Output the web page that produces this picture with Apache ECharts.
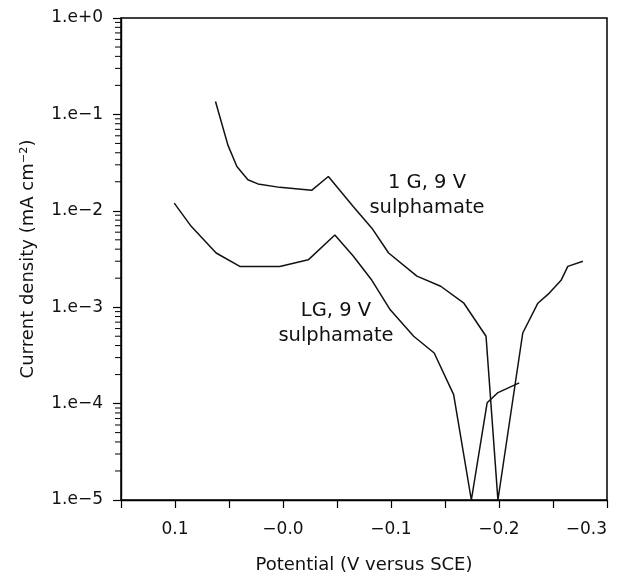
<!DOCTYPE html>
<html>
<head>
<meta charset="utf-8">
<script src="https://cdn.jsdelivr.net/npm/echarts@6/dist/echarts.min.js"></script>
<style>
html,body{margin:0;padding:0;background:#fff;}
#chart{width:619px;height:573px;}
</style>
</head>
<body>
<div id="chart"></div>
<script>
// Data
const potential1G = [0.0625, 0.051, 0.0427, 0.0325, 0.0232, 0.003, -0.0265, -0.042, -0.065, -0.0823, -0.0978, -0.124, -0.146, -0.1675, -0.188, -0.199, -0.222, -0.236, -0.2466, -0.2575, -0.2637, -0.2777];
const current1G   = [0.136, 0.048, 0.0288, 0.021, 0.019, 0.0175, 0.0163, 0.0227, 0.0111, 0.0066, 0.00365, 0.0021, 0.00165, 0.0011, 0.0005, 0.00001, 0.00054, 0.0011, 0.0014, 0.0019, 0.00265, 0.003];
const potentialLG = [0.1007, 0.085, 0.0619, 0.040, 0.003, -0.0234, -0.048, -0.065, -0.0823, -0.0993, -0.121, -0.14, -0.158, -0.1744, -0.189, -0.1986, -0.2187];
const currentLG   = [0.012, 0.0069, 0.00365, 0.00265, 0.00265, 0.0031, 0.0056, 0.0034, 0.0019, 0.00094, 0.0005, 0.000335, 0.000124, 0.00001, 0.000102, 0.000129, 0.000164];
const xTickLabels = ['0.1', '\u22120.0', '\u22120.1', '\u22120.2', '\u22120.3'];
const yTickLabels = ['1.e\u22125', '1.e\u22124', '1.e\u22123', '1.e\u22122', '1.e\u22121', '1.e+0'];
const seriesLabels = ['1 G, 9 V\nsulphamate', 'LG, 9 V\nsulphamate'];

const FONT = 'DejaVu Sans';
const xMin = -0.3, xMax = 0.15, yMin = 1e-5, yMax = 1;

// minor log ticks (2..9 in each decade)
const minorTicks = [];
for (let e = -5; e < 0; e++) {
  for (let m = 2; m <= 9; m++) minorTicks.push([xMax, m * Math.pow(10, e)]);
}

const chart = echarts.init(document.getElementById('chart'), null, {renderer: 'canvas'});
const lineStyle = {color: '#111', width: 1.5};

chart.setOption({
  animation: false,
  backgroundColor: '#fff',
  grid: {left: 121, right: 12, top: 18, bottom: 73, containLabel: false, outerBoundsMode: 'none', show: true, borderColor: '#000', borderWidth: 1.5, backgroundColor: 'transparent'},
  xAxis: {
    type: 'value', inverse: true, min: xMin, max: xMax, interval: 0.05,
    name: 'Potential (V versus SCE)', nameLocation: 'middle', nameGap: 56,
    nameTextStyle: {fontFamily: FONT, fontSize: 18, color: '#111'},
    axisLine: {show: true, onZero: false, lineStyle: {color: '#000', width: 1.4}},
    axisTick: {show: true, inside: false, length: 8, lineStyle: {color: '#000', width: 1.2}},
    axisLabel: {
      margin: 21, fontFamily: FONT, fontSize: 17, color: '#111', hideOverlap: false,
      alignMinLabel: 'right',
      formatter: function (v) {
        const k = Math.round(v * 100);
        if (k % 10 !== 0) return '';
        const idx = Math.round((0.1 - v) * 10);
        return (idx >= 0 && idx < xTickLabels.length) ? xTickLabels[idx] : '';
      }
    },
    splitLine: {show: false}
  },
  yAxis: {
    type: 'log', logBase: 10, min: yMin, max: yMax, splitNumber: 5,
    name: 'Current density (mA cm\u207B\u00B2)', nameLocation: 'middle', nameGap: 84, nameRotate: 90,
    nameTextStyle: {fontFamily: FONT, fontSize: 18, color: '#111'},
    axisLine: {show: true, onZero: false, lineStyle: {color: '#000', width: 1.4}},
    axisTick: {show: true, inside: false, length: 8, lineStyle: {color: '#000', width: 1.2}},
    axisLabel: {
      margin: 18, fontFamily: FONT, fontSize: 17, color: '#111',
      formatter: function (v) {
        const e = Math.round(Math.log10(v));
        return yTickLabels[e + 5] || '';
      }
    },
    splitLine: {show: false}
  },
  series: [
    {type: 'line', data: potential1G.map((p, i) => [p, current1G[i]]), showSymbol: false, symbol: 'none', lineStyle: lineStyle, clip: false},
    {type: 'line', data: potentialLG.map((p, i) => [p, currentLG[i]]), showSymbol: false, symbol: 'none', lineStyle: lineStyle, clip: false},
    {
      type: 'custom', data: minorTicks, clip: false, silent: true,
      renderItem: function (params, api) {
        const p = api.coord([api.value(0), api.value(1)]);
        return {type: 'line', shape: {x1: p[0] - 6, y1: p[1], x2: p[0], y2: p[1]}, style: {stroke: '#000', lineWidth: 1}};
      }
    }
  ],
  graphic: [
    {type: 'text', x: 427, y: 195, style: {text: seriesLabels[0], fontFamily: FONT, fontSize: 19.5, fill: '#111', align: 'center', verticalAlign: 'middle', lineHeight: 25}},
    {type: 'text', x: 336, y: 323, style: {text: seriesLabels[1], fontFamily: FONT, fontSize: 19.5, fill: '#111', align: 'center', verticalAlign: 'middle', lineHeight: 25}}
  ]
});
</script>
</body>
</html>
